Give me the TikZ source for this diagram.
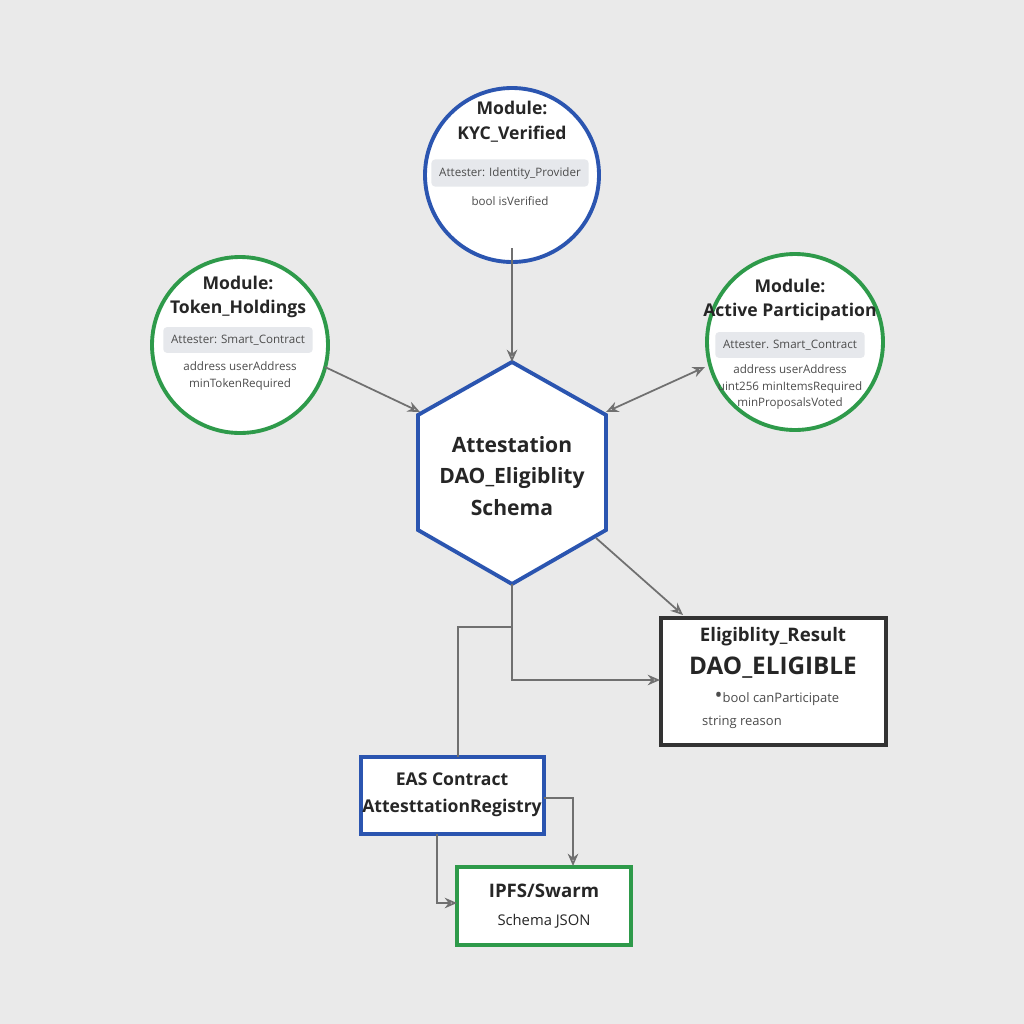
\documentclass[tikz,border=0pt]{standalone}
\usepackage{fontspec}
\setmainfont{Open Sans}
\usetikzlibrary{arrows.meta}
\definecolor{bg}{HTML}{EAEAEA}
\definecolor{bl}{HTML}{2B55B0}
\definecolor{gr}{HTML}{2E9A4A}
\definecolor{ln}{HTML}{707070}
\definecolor{tag}{HTML}{E6E8EC}
\begin{document}
\begin{tikzpicture}[x=0.01cm,y=-0.01cm,
 title/.style={font=\fontsize{5.0}{7.0}\selectfont\bfseries,align=center,text=black!85},
 small/.style={font=\fontsize{3.3}{4.8}\selectfont,align=center,text=black!70},
 tagbox/.style={small,fill=tag,rounded corners=1pt,inner sep=2.2pt},
 conn/.style={draw=ln,line width=0.5pt,-{Stealth[length=3.5pt,width=3pt,open]}},
 conn2/.style={draw=ln,line width=0.5pt}]
\fill[bg] (0,0) rectangle (1024,1024);
\useasboundingbox (0,0) rectangle (1024,1024);
% circles
\draw[bl,line width=1.1pt,fill=white] (512,175) circle (87);
\node[title] (kyct) at (512,122) {Module:\\KYC\_Verified};
\node[tagbox] (kyca) at (510,173) {Attester: Identity\_Provider};
\node[small] (kycb) at (510,201) {bool isVerified};
\coordinate (kycbot) at (512,248);
\draw[gr,line width=1.1pt,fill=white] (240,345) circle (88);
\node[title] (tokt) at (238,297) {Module:\\Token\_Holdings};
\node[tagbox] (toka) at (238,340) {Attester: Smart\_Contract};
\node[small] (tokb) at (240,376) {address userAddress\\minTokenRequired};
\draw[gr,line width=1.1pt,fill=white] (795,342) circle (88);
\node[title] (actt) at (790,300) {Module:\\Active Participation};
\node[tagbox] (acta) at (790,345) {Attester. Smart\_Contract};
\node[small] (actb) at (790,387) {address userAddress\\uint256 minItemsRequired\\minProposalsVoted};
% hexagon
\draw[bl,line width=1.1pt,fill=white] (512,362)--(606,415)--(606,530)--(512,584)--(418,530)--(418,415)--cycle;
\node[font=\fontsize{6.0}{9}\selectfont\bfseries,align=center,text=black!85] (hex) at (512,476) {Attestation\\DAO\_Eligiblity\\Schema};
% result box
\draw[black!80,line width=1.1pt,fill=white] (661,618) rectangle (886,745);
\node[font=\fontsize{5.3}{7}\selectfont\bfseries,text=black!85] (rt) at (773,637) {Eligiblity\_Result};
\node[font=\fontsize{6.9}{9}\selectfont\bfseries,text=black!85] (rd) at (773,668) {DAO\_ELIGIBLE};
\node[small,font=\fontsize{3.7}{5}\selectfont] (rb) at (777,699) {\textcolor{black!70}{\fontsize{6}{5}\selectfont\textbullet}bool canParticipate};
\node[small,font=\fontsize{3.7}{5}\selectfont] (rs) at (742,722) {string reason};
% EAS
\draw[bl,line width=1.1pt,fill=white] (361,757) rectangle (544,834);
\node[font=\fontsize{5.0}{7.8}\selectfont\bfseries,align=center,text=black!85] (eas) at (452,795) {EAS Contract\\AttesttationRegistry};
% IPFS
\draw[gr,line width=1.1pt,fill=white] (457,867) rectangle (631,945);
\node[font=\fontsize{5.3}{8}\selectfont\bfseries,align=center,text=black!85] (ipfs) at (544,906) {IPFS/Swarm\\{\fontsize{4.2}{6}\selectfont\mdseries Schema JSON}};
% connectors
\coordinate (hextop) at (512,362);
\coordinate (hexbot) at (512,584);
\coordinate (tokr) at (325,367);
\coordinate (hexl) at (420,412);
\coordinate (actl) at (705,367);
\coordinate (hexr) at (606,412);
\coordinate (hexbr) at (596,538);
\coordinate (restl) at (683,615);
\coordinate (resl) at (660,680);
\coordinate (eastop) at (458,757);
\coordinate (easr) at (544,798);
\coordinate (ipfst) at (573,866);
\coordinate (easb) at (437,834);
\coordinate (ipfsl) at (457,903);
\draw[conn] (kycbot) -- (hextop);
\draw[conn] (tokr) -- (hexl);
\draw[conn,{Stealth[length=3.5pt,width=3pt,open]}-{Stealth[length=3.5pt,width=3pt,open]}] (actl) -- (hexr);
\draw[conn] (hexbr) -- (restl);
\draw[conn] (hexbot) |- (resl);
\draw[conn2] (512,627) -| (eastop);
\draw[conn] (easr) -| (ipfst);
\draw[conn] (easb) |- (ipfsl);
\end{tikzpicture}
\end{document}
